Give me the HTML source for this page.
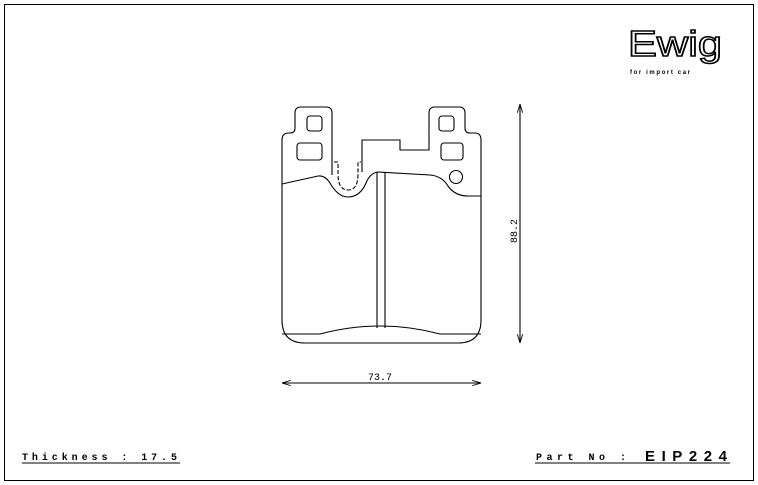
<!DOCTYPE html>
<html><head><style>
body{margin:0;background:#fff;}
svg{display:block;font-family:"Liberation Mono",monospace;}
</style></head><body>
<svg width="758" height="485" viewBox="0 0 758 485" xmlns="http://www.w3.org/2000/svg">
<defs>
<marker id="a" viewBox="0 0 10 10" refX="10" refY="5" markerWidth="8" markerHeight="8" orient="auto-start-reverse"><path d="M0,2 L10,5 L0,8" fill="none" stroke="#000" stroke-width="1"/></marker>
</defs>
<rect x="4.5" y="4.5" width="749" height="476" fill="none" stroke="#000" stroke-width="1"/>
<g fill="none" stroke="#000" stroke-width="1.1">
<path d="M332,175 L332,113 Q332,107 326,107 L301,107 Q295,107 295,113 L295,128 Q295,133 290,133 L289,133 Q282,133 282,140 L282,320 Q282,343 305,343 L458,343 Q481,343 481,320 L481,140 Q481,133 475,133 L470,133 Q465,133 465,128 L465,113 Q465,107 459,107 L435,107 Q429,107 429,113 L429,150 L400,150 L400,140 L362,140 L362,172"/>
<rect x="307" y="116" width="15" height="15" rx="3"/>
<rect x="297" y="143" width="25" height="17" rx="3"/>
<rect x="439" y="116" width="15" height="15" rx="3"/>
<rect x="441" y="143" width="22" height="17" rx="3"/>
<circle cx="456" cy="177" r="6.5"/>
<path d="M282,184 L318,176 Q325,175 330,183 Q338,197 348,197 Q360,197 366,183 Q370,173 378,172 L430,175 Q442,176 448,186 Q455,196 468,196 L481,196"/>
<path d="M334,162 L338,162 L338,174 Q338,190 348,190 Q358,190 358,174 L358,162 L361,162" stroke-dasharray="4,2"/>
<path d="M377,172 L377,328 M385,172 L385,328"/>
<path d="M282,334 L320,334 Q350,326 380,326 Q410,326 440,334 L481,334"/>
<line x1="520" y1="104" x2="520" y2="343" marker-start="url(#a)" marker-end="url(#a)"/>
<line x1="282" y1="383" x2="481" y2="383" marker-start="url(#a)" marker-end="url(#a)"/>
<line x1="22" y1="463" x2="180" y2="463"/>
<line x1="535" y1="463" x2="730" y2="463"/>
</g>
<text x="517" y="231" font-size="10" text-anchor="middle" transform="rotate(-90 517 231)">88.2</text>
<text x="380" y="380" font-size="10" text-anchor="middle">73.7</text>
<text x="22" y="460" font-size="10" font-weight="bold" textLength="155" lengthAdjust="spacing">Thickness : 17.5</text>
<text x="536" y="460" font-size="10" font-weight="bold" textLength="90" lengthAdjust="spacing">Part No :</text>
<text x="645" y="461" font-size="15" font-weight="bold" textLength="82" lengthAdjust="spacing" font-family="Liberation Sans,sans-serif">EIP224</text>
<text x="628" y="56" font-size="36" fill="#fff" stroke="#000" stroke-width="1.5" font-family="Liberation Sans,sans-serif" textLength="94" lengthAdjust="spacingAndGlyphs">Ewig</text>
<text x="630" y="74" font-size="6" font-weight="bold" font-family="Liberation Sans,sans-serif" textLength="60">for import car</text>
</svg>
</body></html>
